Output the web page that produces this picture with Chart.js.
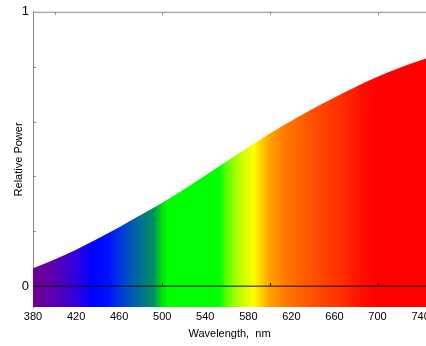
<!DOCTYPE html>
<html>
<head>
<meta charset="utf-8">
<script src="https://cdn.jsdelivr.net/npm/chart.js@4"></script>
<style>
  html, body { margin: 0; padding: 0; background: #fff; overflow: hidden; }
  canvas { display: block; }
</style>
</head>
<body>
<canvas id="spectrum" width="426" height="346"></canvas>
<script>
'use strict';

// Data
const wavelengths = [380, 400, 420, 440, 460, 480, 500, 520, 540, 560, 580, 600, 620, 640, 660, 680, 700, 720, 740, 760];
const relPower = [0.065, 0.097, 0.133, 0.173, 0.215, 0.259, 0.304, 0.352, 0.403, 0.455, 0.506, 0.556, 0.603, 0.647, 0.688, 0.727, 0.763, 0.795, 0.823, 0.848];
const xTickStart = 380;
const xTickStep = 40;
const yLabels = [0, 1];
const yMinorTicks = [0.2, 0.4, 0.6, 0.8];
const xMinorTicks = [400, 500, 600, 700];

const X_MIN = 380, X_MAX = 745;
const FONT = '"Liberation Sans", Arial, sans-serif';
const AXIS_GREY = '#8a8a8a';

// spectrum colour stops (nm -> colour)
const spectrumStops = [
    [380, '#700090'], [400, '#5a00b0'], [420, '#3000e0'], [435, '#0000ff'],
    [450, '#0010ff'], [465, '#0045d0'], [480, '#007090'], [492, '#009060'],
    [500, '#00e010'], [505, '#00ff00'], [553, '#00ff00'], [560, '#60ff00'],
    [575, '#d0ff00'], [585, '#ffff00'], [592, '#ffd000'], [600, '#ffa000'],
    [615, '#ff7800'], [640, '#ff5000'], [665, '#ff3000'], [690, '#ff0800'],
    [700, '#ff0000'], [745, '#ff0000']
];

function spectrumFill(ctx) {
    const chart = ctx.chart;
    if (!chart.chartArea) return null;
    const xs = chart.scales.x;
    const x0 = xs.getPixelForValue(X_MIN);
    const x1 = xs.getPixelForValue(X_MAX);
    const g = chart.ctx.createLinearGradient(x0, 0, x1, 0);
    spectrumStops.forEach(([nm, c]) => g.addColorStop((nm - X_MIN) / (X_MAX - X_MIN), c));
    return g;
}

// top frame line + small inward tick marks
const frameTicks = {
    id: 'frameTicks',
    afterDatasetsDraw(chart) {
        const { ctx, chartArea, scales: { x, y } } = chart;
        ctx.save();
        ctx.strokeStyle = AXIS_GREY;
        ctx.lineWidth = 1;
        ctx.beginPath();
        ctx.moveTo(chartArea.left, chartArea.top + 0.5);
        ctx.lineTo(chartArea.right, chartArea.top + 0.5);
        yMinorTicks.forEach(v => {
            const py = Math.round(y.getPixelForValue(v)) + 0.5;
            ctx.moveTo(chartArea.left, py);
            ctx.lineTo(chartArea.left + 3, py);
        });
        xMinorTicks.forEach(v => {
            const px = Math.round(x.getPixelForValue(v)) + 0.5;
            ctx.moveTo(px, chartArea.top);
            ctx.lineTo(px, chartArea.top + 3);
        });
        ctx.stroke();

        ctx.strokeStyle = '#222';
        ctx.beginPath();
        const zy = Math.round(y.getPixelForValue(0));
        xMinorTicks.forEach(v => {
            const px = Math.round(x.getPixelForValue(v)) + 0.5;
            ctx.moveTo(px, zy);
            ctx.lineTo(px, zy - 3);
        });
        ctx.stroke();
        ctx.restore();
    }
};

new Chart(document.getElementById('spectrum'), {
    type: 'line',
    data: {
        datasets: [{
            data: wavelengths.map((w, i) => ({ x: w, y: relPower[i] })),
            order: 1,
            fill: 'start',
            backgroundColor: spectrumFill,
            borderWidth: 0,
            pointRadius: 0,
            cubicInterpolationMode: 'monotone'
        }, {
            data: [{ x: X_MIN, y: 0 }, { x: X_MAX, y: 0 }],
            order: 0,
            fill: false,
            borderColor: '#111',
            borderWidth: 1,
            pointRadius: 0
        }]
    },
    options: {
        responsive: false,
        animation: false,
        layout: { padding: { top: 11, right: 0, left: 0, bottom: 0 } },
        plugins: { legend: { display: false }, tooltip: { enabled: false } },
        scales: {
            x: {
                type: 'linear',
                min: X_MIN,
                max: X_MAX,
                afterBuildTicks: scale => {
                    const t = [];
                    for (let v = xTickStart; v <= X_MAX; v += xTickStep) t.push({ value: v });
                    scale.ticks = t;
                },
                afterFit: scale => {
                    scale.height = 39;
                    scale.paddingLeft = 0;
                    scale.paddingRight = 0;
                },
                grid: { display: false, drawTicks: false },
                border: { display: false },
                ticks: { color: '#000', padding: 3, maxRotation: 0, autoSkip: false, font: { family: FONT, size: 11 } },
                title: { display: true, text: 'Wavelength,  nm', color: '#000', padding: { top: 0, bottom: 5 }, font: { family: FONT, size: 11 } }
            },
            y: {
                min: -0.076,
                max: 1,
                afterBuildTicks: scale => { scale.ticks = yLabels.map(v => ({ value: v })); },
                afterFit: scale => { scale.width = 33; },
                grid: { display: false, drawTicks: false },
                border: { display: true, color: AXIS_GREY, width: 1 },
                ticks: { color: '#000', padding: 4, font: { family: FONT, size: 13 } },
                title: { display: true, text: 'Relative Power', color: '#000', padding: { top: 12, bottom: 0 }, font: { family: FONT, size: 11 } }
            }
        }
    },
    plugins: [frameTicks]
});
</script>
</body>
</html>
